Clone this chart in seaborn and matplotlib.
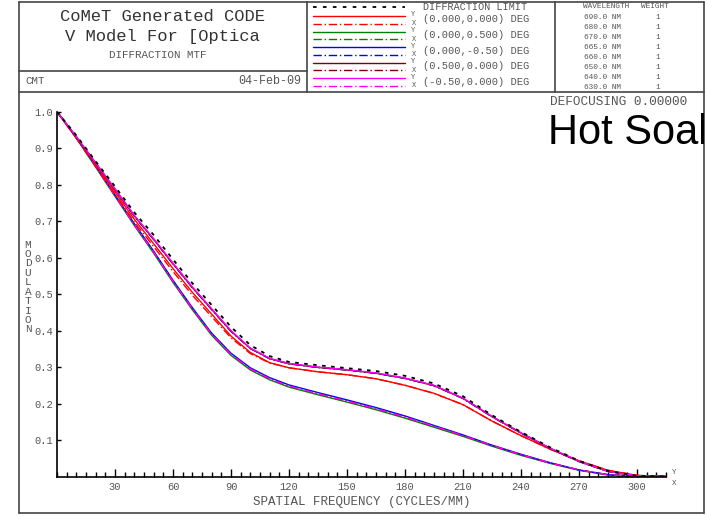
import matplotlib
matplotlib.use("Agg")
import matplotlib.pyplot as plt
import seaborn as sns
from matplotlib.lines import Line2D
from matplotlib.ticker import MultipleLocator
from matplotlib.transforms import Bbox, TransformedBbox

# ---------------- data ----------------
freq = [0, 10, 20, 30, 40, 50, 60, 70, 80, 90, 100, 110, 120, 135, 150, 165,
        180, 195, 210, 225, 240, 255, 270, 285, 300, 315]

diff_limit = [1.0, 0.935, 0.864, 0.795, 0.724, 0.662, 0.595, 0.530, 0.470, 0.410,
              0.360, 0.330, 0.314, 0.305, 0.297, 0.289, 0.276, 0.255, 0.220, 0.168,
              0.122, 0.080, 0.043, 0.015, 0.002, 0.0]

red_y = [1.0, 0.930, 0.855, 0.780, 0.705, 0.638, 0.570, 0.505, 0.445, 0.385,
         0.340, 0.312, 0.298, 0.287, 0.279, 0.268, 0.250, 0.228, 0.197, 0.152,
         0.112, 0.075, 0.043, 0.017, 0.003, 0.0]
red_x = [1.0, 0.928, 0.851, 0.774, 0.698, 0.630, 0.562, 0.497, 0.438, 0.380,
         0.337, 0.311, 0.298, 0.287, 0.279, 0.268, 0.250, 0.228, 0.197, 0.152,
         0.112, 0.075, 0.043, 0.017, 0.003, 0.0]

upper_sol = [1.0, 0.932, 0.860, 0.789, 0.716, 0.652, 0.585, 0.520, 0.460, 0.400,
             0.352, 0.324, 0.310, 0.300, 0.293, 0.284, 0.270, 0.250, 0.215, 0.165,
             0.120, 0.078, 0.042, 0.014, 0.002, 0.0]
upper_alt = [1.0, 0.931, 0.859, 0.787, 0.714, 0.650, 0.583, 0.518, 0.458, 0.398,
             0.351, 0.323, 0.309, 0.299, 0.292, 0.283, 0.269, 0.249, 0.214, 0.164,
             0.119, 0.077, 0.041, 0.014, 0.002, 0.0]

lower_blue = [1.0, 0.929, 0.852, 0.772, 0.693, 0.618, 0.538, 0.463, 0.393, 0.338,
              0.298, 0.271, 0.251, 0.230, 0.210, 0.189, 0.166, 0.140, 0.114, 0.086,
              0.061, 0.038, 0.018, 0.005, 0.0, 0.0]
lower_green = [1.0, 0.927, 0.848, 0.768, 0.688, 0.612, 0.532, 0.457, 0.387, 0.332,
               0.292, 0.265, 0.245, 0.224, 0.204, 0.183, 0.160, 0.135, 0.110, 0.083,
               0.058, 0.036, 0.017, 0.004, 0.0, 0.0]
lower_dash = [1.0, 0.928, 0.850, 0.770, 0.690, 0.615, 0.535, 0.460, 0.390, 0.335,
              0.295, 0.268, 0.248, 0.227, 0.207, 0.186, 0.163, 0.138, 0.112, 0.085,
              0.060, 0.037, 0.018, 0.005, 0.0, 0.0]

x_ticks = [30, 60, 90, 120, 150, 180, 210, 240, 270, 300]
y_ticks = [0.1, 0.2, 0.3, 0.4, 0.5, 0.6, 0.7, 0.8, 0.9, 1.0]

fields = ["(0.000,0.000) DEG", "(0.000,0.500) DEG", "(0.000,-0.50) DEG",
          "(0.500,0.000) DEG", "(-0.50,0.000) DEG"]
field_colors = ["#ff0000", "#008000", "#0000ff", "#800000", "#ff00ff"]
wavelengths = ["690.0 NM", "680.0 NM", "670.0 NM", "665.0 NM",
               "660.0 NM", "650.0 NM", "640.0 NM", "630.0 NM"]
weights = ["1"] * 8

# ---------------- figure ----------------
sns.set_style("white")
plt.rcParams["font.family"] = ["Liberation Mono", "DejaVu Sans Mono"]

W, H = 707, 516
fig = plt.figure(figsize=(W / 100, H / 100), dpi=100)


def fx(px):
    return px / W


def fy(py):
    return 1 - py / H


GRAY = "#555555"
FRAME = "#444444"

ax = fig.add_axes([fx(57), fy(476.5), fx(666) - fx(57), fy(111.7) - fy(476.5)])
ax.set_xlim(0, 315)
ax.set_ylim(0, 1.0)

DASHDOT = (0, (6, 2, 1, 2))
lw = 1.0
series = [
    (lower_green, "#008000", "-"),
    (lower_blue, "#0000ff", "-"),
    (lower_dash, "#800000", DASHDOT),
    (lower_dash, "#ff00ff", DASHDOT),
    (upper_alt, "#008000", DASHDOT),
    (upper_alt, "#0000ff", DASHDOT),
    (red_x, "#ff0000", DASHDOT),
    (red_y, "#ff0000", "-"),
    (upper_alt, "#800000", "-"),
    (upper_sol, "#ff00ff", "-"),
]
for vals, col, ls in series:
    sns.lineplot(x=freq, y=vals, ax=ax, color=col, linewidth=lw,
                 linestyle=ls, estimator=None, sort=False)
sns.lineplot(x=freq, y=diff_limit, ax=ax, color="black", linewidth=1.3,
             linestyle=(0, (2.0, 3.0)), estimator=None, sort=False)

for s in ["top", "right"]:
    ax.spines[s].set_visible(False)
for s in ["left", "bottom"]:
    ax.spines[s].set_color("black")
    ax.spines[s].set_linewidth(1.2)

ax.set_xticks(x_ticks)
ax.set_xticklabels([str(t) for t in x_ticks])
ax.xaxis.set_minor_locator(MultipleLocator(5))
ax.set_yticks(y_ticks)
ax.set_yticklabels([f"{t:.1f}" for t in y_ticks])
ax.tick_params(axis="x", which="major", direction="in", length=6, width=1,
               color="black", labelsize=7.5, labelcolor=GRAY, pad=4,
               bottom=True)
ax.tick_params(axis="x", which="minor", direction="in", length=3.5, width=1,
               color="black", bottom=True)
ax.tick_params(axis="y", which="major", direction="in", length=3, width=1,
               color="black", labelsize=7.5, labelcolor=GRAY, pad=3, left=True)
ax.set_xlabel("")
ax.set_ylabel("")
ax.patch.set_alpha(0)

fig.text(fx(362), fy(501.5), "SPATIAL FREQUENCY (CYCLES/MM)", ha="center",
         va="center", fontsize=9, color=GRAY)
fig.text(fx(28), fy(287), "\n".join("MODULATION"), ha="center", va="center",
         fontsize=8, color=GRAY, linespacing=0.93)
fig.text(fx(672), fy(472.5), "Y", ha="left", va="center", fontsize=5.5, color=GRAY)
fig.text(fx(672), fy(483.5), "X", ha="left", va="center", fontsize=5.5, color=GRAY)


# ---------------- frame and header ----------------
def fline(x0, y0, x1, y1, **kw):
    kw.setdefault("color", FRAME)
    kw.setdefault("linewidth", 1.2)
    fig.add_artist(Line2D([fx(x0), fx(x1)], [fy(y0), fy(y1)],
                          transform=fig.transFigure, **kw))


fline(18.5, 2, 704, 2)
fline(18.5, 512.5, 704, 512.5)
fline(18.5, 2, 18.5, 512.5)
fline(704, 2, 704, 512.5)
fline(18.5, 92, 704, 92)
fline(18.5, 71, 307, 71)
fline(307, 2, 307, 92)
fline(555, 2, 555, 92)

fig.text(fx(162), fy(16.5), "CoMeT Generated CODE", ha="center", va="center",
         fontsize=12.3, color="#333333")
fig.text(fx(162), fy(36.5), "V Model For [Optica", ha="center", va="center",
         fontsize=12.3, color="#333333")
fig.text(fx(158), fy(55), "DIFFRACTION MTF", ha="center", va="center",
         fontsize=7.8, color=GRAY)
fig.text(fx(25), fy(81), "CMT", ha="left", va="center", fontsize=7.8, color=GRAY)
fig.text(fx(301), fy(81), "04-Feb-09", ha="right", va="center", fontsize=8.5,
         color=GRAY)

# legend box
fline(313, 7, 405, 7, color="black", linewidth=1.3, linestyle=(0, (2.0, 3.5)))
fig.text(fx(423), fy(6.5), "DIFFRACTION LIMIT", ha="left", va="center",
         fontsize=7.3, color=GRAY)
for i, (lab, col) in enumerate(zip(fields, field_colors)):
    y0 = 16 + i * 15.6
    fline(313, y0, 405, y0, color=col, linewidth=1.0)
    fline(313, y0 + 7.5, 405, y0 + 7.5, color=col, linewidth=1.0,
          linestyle=DASHDOT)
    fig.text(fx(413.5), fy(y0 - 1), "Y", ha="center", va="center", fontsize=5,
             color=GRAY)
    fig.text(fx(413.5), fy(y0 + 7.5), "X", ha="center", va="center", fontsize=5,
             color=GRAY)
    fig.text(fx(423), fy(y0 + 3.5), lab, ha="left", va="center", fontsize=7.5,
             color=GRAY)

# wavelength table
fig.text(fx(583), fy(6.5), "WAVELENGTH", ha="left", va="center", fontsize=5.6,
         color=GRAY)
fig.text(fx(641), fy(6.5), "WEIGHT", ha="left", va="center", fontsize=5.6,
         color=GRAY)
for i, (wl, wt) in enumerate(zip(wavelengths, weights)):
    yy = 17 + i * 10.1
    fig.text(fx(584), fy(yy), wl, ha="left", va="center", fontsize=5.6, color=GRAY)
    fig.text(fx(658), fy(yy), wt, ha="center", va="center", fontsize=5.6,
             color=GRAY)

fig.text(fx(550), fy(102), "DEFOCUSING 0.00000", ha="left", va="center",
         fontsize=9.2, color=GRAY)
hs = fig.text(fx(548), fy(133), "Hot Soak", ha="left", va="center",
              fontsize=30, color="black",
              family=["Liberation Sans", "DejaVu Sans"])
hs.set_clip_box(TransformedBbox(Bbox([[0, 0], [fx(703.5), 1]]), fig.transFigure))
hs.set_clip_on(True)

fig.savefig("out.png", dpi=100)
